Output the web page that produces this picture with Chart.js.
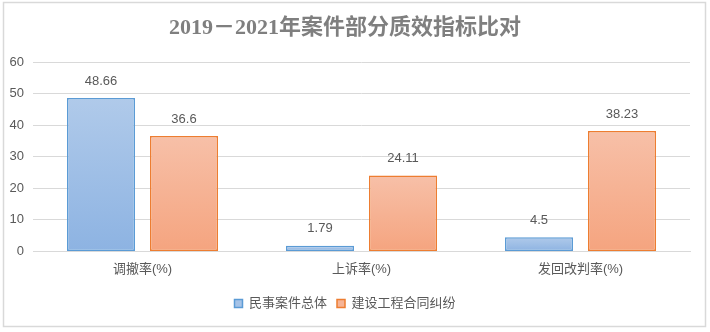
<!DOCTYPE html>
<html>
<head>
<meta charset="utf-8">
<script src="https://cdn.jsdelivr.net/npm/chart.js@4/dist/chart.umd.min.js"></script>
<style>
  html, body { margin: 0; padding: 0; background: #fff; }
  #wrap { position: relative; width: 710px; height: 332px; }
</style>
</head>
<body>
<div id="wrap"><canvas id="c" width="710" height="332"></canvas></div>
<script>
// Indicator categories and the two compared series (percentages)
const categories = ['调撤率(%)', '上诉率(%)', '发回改判率(%)'];
const civilOverall = [48.66, 1.79, 4.5];
const constructionDisputes = [36.6, 24.11, 38.23];
const seriesNames = ['民事案件总体', '建设工程合同纠纷'];
const yTicks = [0, 10, 20, 30, 40, 50, 60];

const TEXT = '#595959';
const GRID = '#d9d9d9';
const CJK = '"Liberation Sans", "Noto Sans CJK SC", sans-serif';

// Vertical gradient spanning each individual bar, light at top
function barGradient(top, bottom) {
  return function (ctx) {
    const chart = ctx.chart;
    const y = chart.scales && chart.scales.y;
    if (!chart.chartArea || !y || ctx.raw === undefined) return bottom;
    const yTop = y.getPixelForValue(ctx.raw);
    const yBot = y.getPixelForValue(0);
    const g = chart.ctx.createLinearGradient(0, yTop, 0, yBot);
    g.addColorStop(0, top);
    g.addColorStop(1, bottom);
    return g;
  };
}

// Value labels above bars, plus outer frame
const decorations = {
  id: 'decorations',
  afterDatasetsDraw(chart) {
    const c = chart.ctx;
    c.save();
    c.font = '13px ' + CJK;
    c.fillStyle = TEXT;
    c.textAlign = 'center';
    c.textBaseline = 'middle';
    chart.data.datasets.forEach((ds, i) => {
      chart.getDatasetMeta(i).data.forEach((bar, j) => {
        c.fillText(String(ds.data[j]), bar.x, bar.y - 17);
      });
    });
    c.restore();
  },
  afterDraw(chart) {
    const c = chart.ctx;
    c.save();
    c.strokeStyle = GRID;
    c.lineWidth = 1.5;
    c.strokeRect(3.5, 2.5, 702, 324);
    c.restore();
  }
};

new Chart(document.getElementById('c'), {
  type: 'bar',
  data: {
    labels: categories,
    datasets: [
      {
        label: seriesNames[0],
        data: civilOverall,
        backgroundColor: barGradient('#b0caea', '#8db3e2'),
        borderColor: '#5b9bd5',
        borderWidth: 1.5,
        borderSkipped: false
      },
      {
        label: seriesNames[1],
        data: constructionDisputes,
        backgroundColor: barGradient('#f7c0a8', '#f5a47f'),
        borderColor: '#ed7d31',
        borderWidth: 1.5,
        borderSkipped: false
      }
    ]
  },
  options: {
    responsive: false,
    animation: false,
    categoryPercentage: 0.758,
    barPercentage: 0.82,
    layout: { padding: { left: 0, right: 20, top: 4, bottom: 12 } },
    plugins: {
      title: {
        display: true,
        text: '2019－2021年案件部分质效指标比对',
        color: '#7f7f7f',
        font: { family: '"Liberation Serif", "Noto Sans CJK SC", serif', size: 22, weight: 'bold' },
        padding: { top: 11, bottom: 21 }
      },
      legend: {
        position: 'bottom',
        labels: {
          color: TEXT,
          font: { family: CJK, size: 13 },
          boxWidth: 8,
          boxHeight: 8,
          padding: 10,
          generateLabels(chart) {
            return chart.data.datasets.map((ds, i) => ({
              text: ds.label,
              fillStyle: i === 0 ? '#a6c3e7' : '#f6b496',
              strokeStyle: ds.borderColor,
              lineWidth: 1.5,
              fontColor: TEXT,
              datasetIndex: i
            }));
          }
        }
      },
      tooltip: { enabled: false }
    },
    scales: {
      x: {
        grid: { display: false, drawTicks: false },
        border: { display: true, color: GRID, width: 1 },
        ticks: { color: TEXT, font: { family: CJK, size: 13 }, padding: 10 }
      },
      y: {
        min: 0,
        max: 60,
        afterBuildTicks(scale) { scale.ticks = yTicks.map(v => ({ value: v })); },
        afterFit(scale) { scale.width = 33; },
        grid: { color: GRID, drawTicks: false },
        border: { display: false },
        ticks: { color: TEXT, font: { family: CJK, size: 13 }, padding: 9 }
      }
    }
  },
  plugins: [decorations]
});
</script>
</body>
</html>
